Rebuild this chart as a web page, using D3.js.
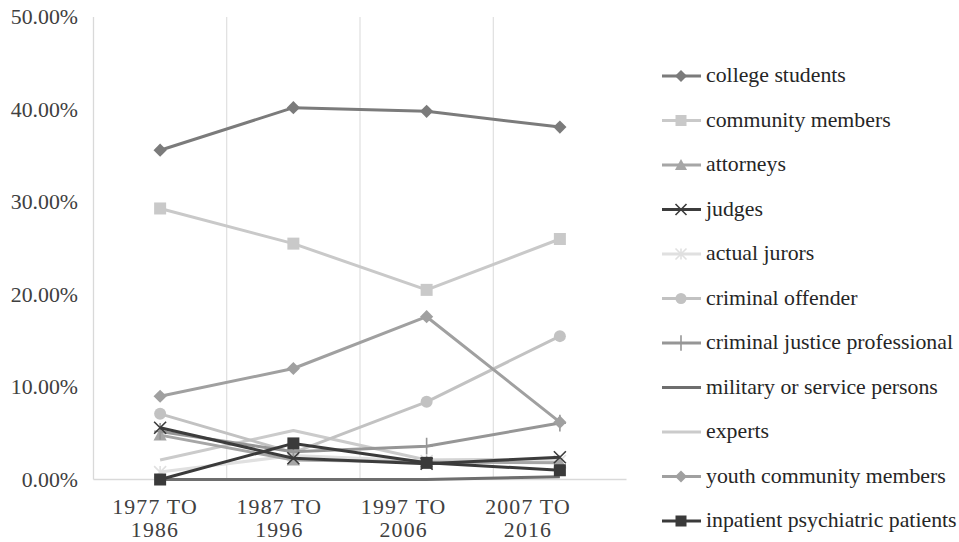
<!DOCTYPE html>
<html><head><meta charset="utf-8">
<script src="https://cdn.jsdelivr.net/npm/d3@7"></script>
<style>body{margin:0;background:#fff;}</style>
</head><body><svg id="c" width="959" height="542"></svg>
<script>
const categories = [["1977 TO","1986"],["1987 TO","1996"],["1997 TO","2006"],["2007 TO","2016"]];
const seriesNames = ["college students","community members","attorneys","judges","actual jurors","criminal offender","criminal justice professional","military or service persons","experts","youth community members","inpatient psychiatric patients"];
const collegeStudents = [35.6, 40.2, 39.8, 38.1];
const communityMembers = [29.3, 25.5, 20.5, 26.0];
const attorneys = [4.8, 2.1, 1.9, 1.8];
const judges = [5.6, 2.3, 1.7, 2.4];
const actualJurors = [0.8, 2.6, 2.0, 2.0];
const criminalOffender = [7.1, 2.9, 8.4, 15.5];
const criminalJusticeProfessional = [5.2, 3.0, 3.6, 6.1];
const militaryPersons = [0.0, 0.0, 0.0, 0.3];
const experts = [2.1, 5.3, 2.1, 2.2];
const youthCommunityMembers = [9.0, 12.0, 17.6, 6.2];
const inpatientPatients = [0.0, 3.9, 1.8, 1.0];
const yTicks = [0, 10, 20, 30, 40, 50];

const seriesValues = [collegeStudents, communityMembers, attorneys, judges, actualJurors, criminalOffender, criminalJusticeProfessional, militaryPersons, experts, youthCommunityMembers, inpatientPatients];
const colors = ["#7b7b7b","#c9c9c9","#a6a6a6","#3c3c3c","#e0e0e0","#c2c2c2","#969696","#6e6e6e","#cbcbcb","#a0a0a0","#3a3a3a"];
const markers = ["diamond","square","triangle","x","asterisk","circle","plus","none","none","diamond","square"];

const FONT = '"Liberation Serif"';
const svg = d3.select("#c");
const L = 93.5, R = 626.5, T = 17, B = 479.5;
const FS = 21.8;
const x = d3.scaleBand().domain(d3.range(categories.length)).range([L, R]);
const xLab = d3.scalePoint().domain(d3.range(categories.length)).range([154, 527]);
const y = d3.scaleLinear().domain([0, 50]).range([B, T]);

const g = svg.append("g");
d3.range(1, categories.length).forEach(i => {
  const xx = L + i * x.bandwidth();
  g.append("line").attr("x1", xx).attr("x2", xx).attr("y1", T).attr("y2", B).attr("stroke", "#d9d9d9").attr("stroke-width", 1);
});
g.append("line").attr("x1", L).attr("x2", L).attr("y1", T).attr("y2", B).attr("stroke", "#d9d9d9").attr("stroke-width", 1.3);

svg.append("g").selectAll("text").data(yTicks).join("text")
  .attr("x", 78).attr("y", d => y(d) + 7).attr("text-anchor", "end")
  .attr("font-size", FS).attr("fill", "#404040")
  .style("font-family", FONT)
  .text(d => d.toFixed(2) + "%");

categories.forEach((d, i) => {
  const cx = xLab(i) + 1;
  d.forEach((s, k) => {
    svg.append("text").attr("x", cx).attr("y", 514 + k * 23)
      .attr("text-anchor", "middle").attr("font-size", FS).attr("fill", "#404040").attr("letter-spacing", 1.2)
      .style("font-family", FONT).text(s);
  });
});

function drawMarker(sel, type, color, size) {
  const s = size;
  if (type === "diamond") sel.append("path").attr("d", `M0,${-s*0.6}L${s*0.6},0L0,${s*0.6}L${-s*0.6},0Z`).attr("fill", color);
  else if (type === "square") sel.append("rect").attr("x", -s/2).attr("y", -s/2).attr("width", s).attr("height", s).attr("fill", color);
  else if (type === "triangle") sel.append("path").attr("d", `M0,${-s*0.55}L${s*0.55},${s*0.45}L${-s*0.55},${s*0.45}Z`).attr("fill", color);
  else if (type === "circle") sel.append("circle").attr("r", s/2).attr("fill", color);
  else if (type === "x") sel.append("path").attr("d", `M${-s/2},${-s/2}L${s/2},${s/2}M${s/2},${-s/2}L${-s/2},${s/2}`).attr("stroke", color).attr("stroke-width", 1.6);
  else if (type === "asterisk") sel.append("path").attr("d", `M${-s/2},${-s/2}L${s/2},${s/2}M${s/2},${-s/2}L${-s/2},${s/2}M0,${-s/2}L0,${s/2}`).attr("stroke", color).attr("stroke-width", 1.6);
  else if (type === "plus") sel.append("path").attr("d", `M0,${-s*0.7}L0,${s*0.7}M${-s/2},0L${s/2},0`).attr("stroke", color).attr("stroke-width", 1.6);
}

svg.append("line").attr("x1", L).attr("x2", R).attr("y1", B).attr("y2", B).attr("stroke", "#d9d9d9").attr("stroke-width", 1.3);

const line = d3.line().x((d, i) => x(i) + x.bandwidth() / 2).y(d => y(d));
const order = [7, 8, 4, 5, 2, 6, 9, 1, 0, 3, 10];
order.forEach(si => {
  const grp = svg.append("g");
  grp.append("path").attr("d", line(seriesValues[si])).attr("fill", "none").attr("stroke", colors[si]).attr("stroke-width", 3).attr("stroke-linejoin", "round");
  if (markers[si] !== "none") {
    seriesValues[si].forEach((v, i) => {
      const m = grp.append("g").attr("transform", `translate(${x(i) + x.bandwidth()/2},${y(v)})`);
      drawMarker(m, markers[si], colors[si], markers[si] === "diamond" ? 11 : 12);
    });
  }
});

seriesNames.forEach((name, i) => {
  const yy = 76 + i * 44.5;
  svg.append("line").attr("x1", 662).attr("x2", 701).attr("y1", yy).attr("y2", yy).attr("stroke", colors[i]).attr("stroke-width", 3);
  if (markers[i] !== "none") {
    const m = svg.append("g").attr("transform", `translate(681,${yy})`);
    drawMarker(m, markers[i], colors[i], markers[i] === "diamond" ? 10 : 11);
  }
  svg.append("text").attr("x", 706).attr("y", yy + 6).attr("font-size", FS).attr("fill", "#262626")
    .style("font-family", FONT).text(name);
});
</script></body></html>
